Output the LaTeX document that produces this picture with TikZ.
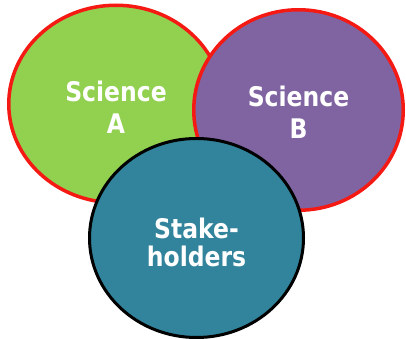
\documentclass[tikz,border=0pt]{standalone}
\usepackage{fontspec}
\setmainfont{DejaVu Sans}[FakeStretch=0.87]
\usetikzlibrary{shapes.geometric}
\definecolor{sciGreen}{RGB}{146,208,80}
\definecolor{sciPurple}{RGB}{128,100,162}
\definecolor{stakeTeal}{RGB}{49,132,155}
\definecolor{rimRed}{RGB}{245,25,20}
\begin{document}
\begin{tikzpicture}[x=1pt, y=-1pt,
        blob/.style={ellipse, inner sep=0pt, align=center, text=white},
        science/.style={blob, draw=rimRed, line width=3.5pt,
            font=\bfseries\fontsize{27}{32}\selectfont},
        stakes/.style={blob, draw=black, line width=3pt,
            font=\bfseries\fontsize{27}{28}\selectfont}]
            \fill[white] (0,0) rectangle (406,339);
            \useasboundingbox (0,0) rectangle (406,339);

            \node[science, fill=sciGreen, minimum width=214.5pt, minimum height=197.5pt] (sciA) at (116,104) {\rule{0pt}{28pt}Science\\A};
            \node[science, fill=sciPurple, minimum width=209.5pt, minimum height=200.5pt] (sciB) at (298.5,110) {\rule{0pt}{24.5pt}Science\\B};
            \node[stakes, fill=stakeTeal, minimum width=214pt, minimum height=199pt] (stake) at (196.5,238) {\rule{0pt}{30pt}Stake-\\holders};
        \end{tikzpicture}
\end{document}
